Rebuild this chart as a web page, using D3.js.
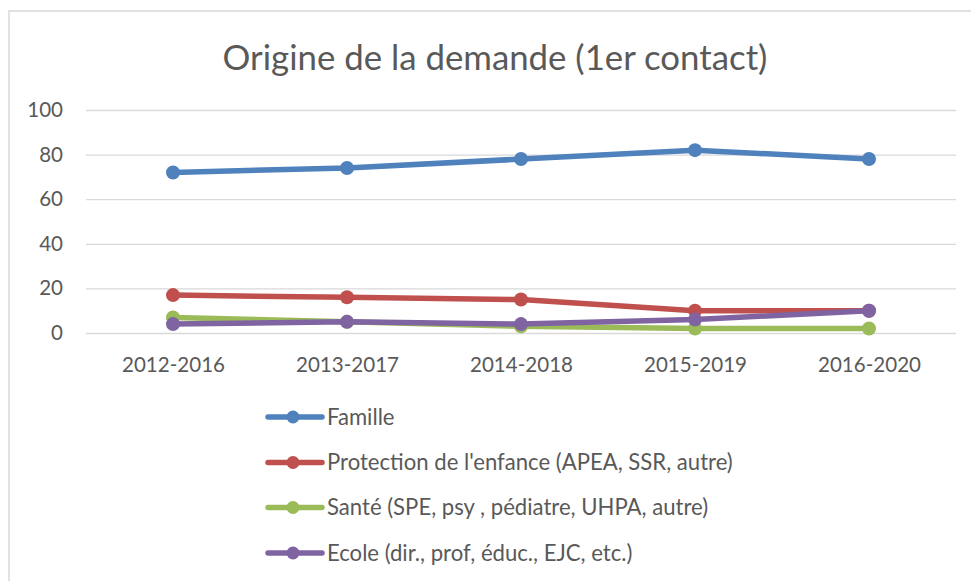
<!DOCTYPE html>
<html>
<head>
<meta charset="utf-8">
<script src="https://cdn.jsdelivr.net/npm/d3@7"></script>
<style>
  html, body { margin: 0; padding: 0; background: #ffffff; }
  svg { display: block; }
  text { font-family: Lato, "Open Sans", sans-serif; fill: #595959; }
</style>
</head>
<body>
<svg id="chart" width="971" height="581"></svg>
<script>
const title = "Origine de la demande (1er contact)";
const categories = ["2012-2016", "2013-2017", "2014-2018", "2015-2019", "2016-2020"];
const yTicks = [0, 20, 40, 60, 80, 100];
const seriesNames = [
  "Famille",
  "Protection de l'enfance (APEA, SSR, autre)",
  "Santé (SPE, psy , pédiatre, UHPA, autre)",
  "Ecole (dir., prof, éduc., EJC, etc.)"
];
const famille = [72, 74, 78, 82, 78];
const protection = [17, 16, 15, 10, 10];
const sante = [7, 5, 3, 2, 2];
const ecole = [4, 5, 4, 6, 10];
const seriesColors = ["#4f81bd", "#c0504d", "#9bbb59", "#8064a2"];

const series = [famille, protection, sante, ecole].map((vals, i) => ({
  name: seriesNames[i], color: seriesColors[i], values: vals
}));

const FONT = 'Lato, "Open Sans", sans-serif';
const svg = d3.select("#chart");

// outer chart border (cropped on right/bottom)
svg.append("rect")
  .attr("x", 9).attr("y", 11)
  .attr("width", 1000).attr("height", 1000)
  .attr("fill", "none").attr("stroke", "#d9d9d9").attr("stroke-width", 1.5);

function fitText(sel, target) {
  const base = 20;
  sel.style("font-size", base + "px");
  const w = sel.node().getComputedTextLength();
  sel.style("font-size", (base * target / w) + "px");
  return base * target / w;
}

// title
const t = svg.append("text")
  .attr("x", 495).attr("y", 70)
  .attr("text-anchor", "middle")
  .text(title);
fitText(t, 545);

const x = d3.scalePoint().domain(categories).range([86, 956]).padding(0.5);
const y = d3.scaleLinear().domain([0, 100]).range([333, 110]);

// measure axis font size
const probe = svg.append("text").text(categories[0]);
const axisFont = fitText(probe, 103);
probe.remove();

// y axis with gridlines
const yAxis = svg.append("g")
  .attr("transform", "translate(86,0)")
  .call(d3.axisLeft(y).tickValues(yTicks).tickSizeInner(-(956 - 86)).tickSizeOuter(0).tickPadding(23));
yAxis.select(".domain").remove();
yAxis.selectAll(".tick line").attr("stroke", "#d9d9d9").attr("stroke-width", 1.3);
yAxis.selectAll(".tick text")
  .attr("fill", "#595959")
  .style("font-family", FONT)
  .style("font-size", axisFont + "px");

// x axis
const xAxis = svg.append("g")
  .attr("transform", "translate(0,333)")
  .call(d3.axisBottom(x).tickSize(0));
xAxis.select(".domain").remove();
xAxis.selectAll(".tick text")
  .attr("y", 39).attr("dy", 0)
  .attr("fill", "#595959")
  .style("font-family", FONT)
  .style("font-size", axisFont + "px");

// lines
const line = d3.line()
  .x((d, i) => x(categories[i]))
  .y(d => y(d));

series.forEach(s => {
  const g = svg.append("g");
  g.append("path")
    .attr("d", line(s.values))
    .attr("fill", "none")
    .attr("stroke", s.color)
    .attr("stroke-width", 5.5)
    .attr("stroke-linejoin", "round")
    .attr("stroke-linecap", "round");
  g.selectAll("circle")
    .data(s.values)
    .join("circle")
    .attr("cx", (d, i) => x(categories[i]))
    .attr("cy", d => y(d))
    .attr("r", 7)
    .attr("fill", s.color);
});

// legend
const legendY = [417, 462.5, 507.5, 553];
const legend = svg.append("g");
const lp = legend.append("text").text(seriesNames[1]);
const legFont = fitText(lp, 406);
lp.remove();
series.forEach((s, i) => {
  const g = legend.append("g").attr("transform", `translate(0,${legendY[i]})`);
  g.append("line")
    .attr("x1", 268).attr("x2", 322)
    .attr("y1", 0).attr("y2", 0)
    .attr("stroke", s.color).attr("stroke-width", 5.5)
    .attr("stroke-linecap", "round");
  g.append("circle")
    .attr("cx", 293).attr("cy", 0).attr("r", 6.5)
    .attr("fill", s.color);
  g.append("text")
    .attr("x", 327).attr("y", 0)
    .attr("dy", "0.36em")
    .style("font-size", legFont + "px")
    .text(s.name);
});
</script>
</body>
</html>
